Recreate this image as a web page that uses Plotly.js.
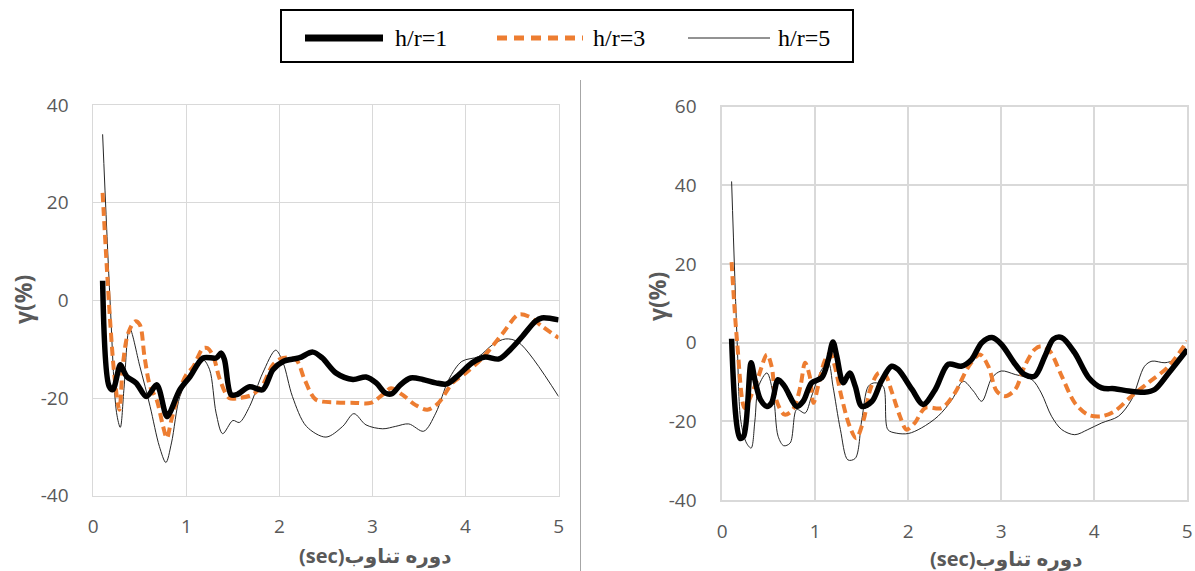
<!DOCTYPE html>
<html>
<head>
<meta charset="utf-8">
<script src="https://cdn.plot.ly/plotly-3.0.1.min.js"></script>
<style>
  html, body { margin: 0; padding: 0; background: #fff; }
  #chart { width: 1195px; height: 571px; }
</style>
</head>
<body>
<div id="chart"></div>
<script>
// Series names
const seriesNames = ['h/r=1', 'h/r=3', 'h/r=5'];

// Left panel: period (sec) and gamma (%) for each h/r
const leftT1 = [0.1,0.17,0.21,0.29,0.32,0.36,0.46,0.57,0.68,0.71,0.79,0.82,0.93,1.04,1.18,1.32,1.375,1.41,1.48,1.54,1.68,1.82,1.93,2.04,2.21,2.36,2.46,2.61,2.79,2.93,3.04,3.14,3.21,3.30,3.41,3.54,3.68,3.80,3.93,4.07,4.21,4.36,4.48,4.61,4.75,4.82,5.0];
const leftG1 = [4,-17.6,-18.3,-13.2,-14.2,-15.6,-16.9,-19.7,-17.3,-18.3,-23.8,-23.1,-18.3,-15.6,-11.8,-11.8,-10.8,-12.2,-19.3,-19.3,-17.7,-18.3,-14.2,-12.5,-11.8,-10.6,-11.8,-14.9,-16.2,-15.7,-16.9,-19.0,-19.1,-17.3,-15.9,-16.2,-16.9,-17.1,-15.2,-12.8,-11.6,-12.0,-10.1,-7.4,-4.3,-3.6,-4.0];

const leftT3 = [0.1,0.18,0.23,0.28,0.32,0.375,0.45,0.5,0.55,0.61,0.68,0.75,0.79,0.84,0.93,1.0,1.07,1.18,1.23,1.29,1.36,1.46,1.57,1.71,1.82,1.93,2.04,2.18,2.27,2.39,2.61,2.82,2.98,3.11,3.20,3.32,3.46,3.59,3.71,3.86,4.0,4.18,4.39,4.57,4.68,4.82,5.0];
const leftG3 = [22,-4,-16,-22.4,-12.8,-6.7,-4.3,-5.0,-11.5,-17.6,-20.3,-25.8,-28.2,-24.4,-18.3,-15.2,-13.7,-9.8,-9.8,-11.5,-16.2,-20.0,-20.0,-19.3,-17.3,-13.2,-11.8,-12.2,-16.2,-20.3,-20.9,-21.0,-21.0,-19.3,-18.0,-19.3,-21.4,-22.4,-21.0,-16.9,-14.9,-11.8,-7.0,-2.9,-3.3,-5.3,-7.7];

const leftT5 = [0.1,0.18,0.25,0.29,0.33,0.39,0.5,0.61,0.71,0.78,0.84,0.93,1.04,1.18,1.25,1.32,1.39,1.5,1.57,1.68,1.82,1.96,2.04,2.14,2.29,2.5,2.68,2.80,2.93,3.11,3.25,3.39,3.55,3.68,3.82,3.96,4.14,4.29,4.43,4.57,5.0];
const leftG5 = [34,0,-23,-26,-18,-5.7,-13.5,-21.7,-29.9,-33.2,-29.2,-19.7,-15.6,-12.2,-14.2,-23.1,-27.3,-24.6,-25.0,-21.7,-14.9,-10.2,-12.8,-19.7,-25.8,-28.0,-25.8,-23.2,-25.5,-26.3,-25.8,-25.3,-26.8,-23.1,-16.2,-12.5,-11.5,-9.1,-7.9,-8.6,-19.7];

// Right panel
const rightT1 = [0.1,0.19,0.23,0.31,0.35,0.41,0.48,0.53,0.60,0.67,0.80,0.87,0.96,1.07,1.14,1.19,1.23,1.30,1.37,1.43,1.50,1.61,1.71,1.82,1.89,2.04,2.16,2.29,2.43,2.57,2.68,2.79,2.90,3.0,3.15,3.25,3.36,3.47,3.56,3.65,3.79,3.94,4.08,4.22,4.37,4.54,4.65,4.80,5.0];
const rightG1 = [1.0,-24.3,-23.8,-5.1,-9.4,-14.5,-16.2,-15.3,-9.4,-11.1,-16.2,-14.9,-10.2,-8.9,-4.3,0.2,-3.4,-10.2,-7.7,-11.1,-16.2,-14.9,-9.8,-6.0,-6.8,-11.9,-15.7,-11.9,-5.5,-6.0,-4.3,0,1.3,-0.4,-5.5,-8.1,-8.5,-3.4,0.9,1.3,-2.6,-8.9,-11.5,-11.7,-12.3,-12.6,-11.9,-7.7,-1.7];

const rightT3 = [0.1,0.16,0.24,0.30,0.39,0.48,0.53,0.58,0.67,0.76,0.84,0.89,0.94,0.98,1.03,1.10,1.16,1.21,1.28,1.37,1.44,1.52,1.59,1.68,1.75,1.82,1.91,1.98,2.07,2.18,2.36,2.50,2.65,2.77,2.86,2.95,3.04,3.15,3.25,3.36,3.43,3.52,3.65,3.79,3.93,4.08,4.22,4.40,4.58,4.80,5.0];
const rightG3 = [20.5,0,-16.6,-14,-8.5,-3.0,-6.0,-14.5,-18.3,-17.0,-11.1,-5.1,-8.5,-15.3,-11.1,-4.7,-2.6,-6.0,-13.6,-21.3,-24.3,-19.6,-11.9,-7.7,-8.1,-12.3,-18.7,-22.1,-20.4,-16.6,-16.6,-12.8,-6.0,-3.0,-6.0,-12.3,-13.6,-11.9,-6.0,-1.7,-0.9,-2.1,-8.5,-15.3,-18.3,-18.7,-17.4,-13.6,-10.2,-6.0,0.4];

const rightT5 = [0.1,0.16,0.20,0.26,0.31,0.35,0.39,0.48,0.55,0.60,0.66,0.73,0.80,0.89,0.96,1.07,1.14,1.19,1.27,1.35,1.43,1.50,1.57,1.64,1.73,1.78,1.87,2.0,2.14,2.32,2.47,2.59,2.70,2.79,2.90,3.0,3.15,3.33,3.43,3.54,3.65,3.79,3.93,4.08,4.26,4.40,4.54,4.62,4.76,4.87,5.0];
const rightG5 = [41,0,-20,-25.5,-26.8,-20,-11.1,-7.7,-13.6,-23.8,-26.2,-25.5,-17.0,-17.9,-13.6,-6.8,-5.1,-11.1,-22.1,-29.8,-29.4,-19.6,-11.1,-10.2,-11.1,-22.1,-23.0,-23.1,-21.7,-18.7,-14.5,-9.8,-12.3,-14.9,-8.9,-7.2,-8.1,-9.4,-12.8,-18.7,-22.1,-23.4,-22.1,-20.4,-18.7,-14.5,-6.0,-4.7,-5.1,-4.3,-1.7];

// Axis ticks and their labels (plain hyphen for negatives)
const xTicks = [0, 1, 2, 3, 4, 5];
const leftYTicks = [-40, -20, 0, 20, 40];
const rightYTicks = [-40, -20, 0, 20, 40, 60];
const tickLabel = v => String(v);

const yTitle = 'γ(%)';
const xTitle = '(sec)دوره تناوب';

const W = 1195, H = 571;
const px = v => v / W;
const py = v => 1 - v / H;

const lineStyles = [
  { color: '#000000', width: 5.5 },
  { color: '#ED7D31', width: 4, dash: '9px,5px' },
  { color: '#262626', width: 1 }
];

function mk(t, g, i, xa, ya) {
  return {
    x: t, y: g, type: 'scatter', mode: 'lines', name: seriesNames[i],
    xaxis: xa, yaxis: ya, showlegend: false, hoverinfo: 'skip',
    line: Object.assign({ shape: 'spline', smoothing: 0.9 }, lineStyles[i])
  };
}

const data = [
  mk(leftT5, leftG5, 2, 'x', 'y'),
  mk(leftT3, leftG3, 1, 'x', 'y'),
  mk(leftT1, leftG1, 0, 'x', 'y'),
  mk(rightT5, rightG5, 2, 'x2', 'y2'),
  mk(rightT3, rightG3, 1, 'x2', 'y2'),
  mk(rightT1, rightG1, 0, 'x2', 'y2')
];

const tickFont = { family: 'Open Sans, DejaVu Sans, sans-serif', size: 19, color: '#595959' };
const titleFont = { family: 'Open Sans, DejaVu Sans, sans-serif', size: 20, color: '#595959', weight: 'bold' };
const yTitleFont = { family: 'Open Sans, DejaVu Sans, sans-serif', size: 23, color: '#595959', weight: 'bold' };

function xAxis(domain, anchor, gw) {
  return {
    domain: domain, anchor: anchor, range: [0, 5],
    tickmode: 'array', tickvals: xTicks, ticktext: xTicks.map(tickLabel),
    showgrid: true, gridcolor: '#D9D9D9', gridwidth: gw, zeroline: false,
    showline: true, linecolor: '#D9D9D9', linewidth: gw, mirror: true,
    ticks: '', tickfont: tickFont, ticklabelstandoff: 13, fixedrange: true
  };
}
function yAxis(domain, anchor, range, ticks, gw) {
  return {
    domain: domain, anchor: anchor, range: range,
    tickmode: 'array', tickvals: ticks, ticktext: ticks.map(tickLabel),
    showgrid: true, gridcolor: '#D9D9D9', gridwidth: gw, zeroline: false,
    showline: true, linecolor: '#D9D9D9', linewidth: gw, mirror: true,
    ticks: '', tickfont: tickFont, ticklabelstandoff: 20, fixedrange: true
  };
}

// Legend drawn as a framed strip above both panels
const legendY = 38;
const legendItems = [
  { x0: 305, x1: 383, tx: 393 },
  { x0: 497, x1: 583, tx: 591 },
  { x0: 688, x1: 770, tx: 776 }
];
const shapes = [
  { type: 'rect', xref: 'paper', yref: 'paper', x0: px(281), x1: px(853), y0: py(62), y1: py(10),
    line: { color: '#000', width: 2 }, fillcolor: 'rgba(0,0,0,0)' },
  { type: 'line', xref: 'paper', yref: 'paper', x0: px(580.5), x1: px(580.5), y0: py(80), y1: py(571),
    line: { color: '#A6A6A6', width: 1 } }
];
const annotations = [];
legendItems.forEach((it, i) => {
  const st = lineStyles[i];
  shapes.push({ type: 'line', xref: 'paper', yref: 'paper', x0: px(it.x0), x1: px(it.x1), y0: py(legendY), y1: py(legendY),
    line: { color: st.color, width: i === 0 ? 7 : (i === 1 ? 5 : 1), dash: i === 1 ? '10px,7px' : 'solid' } });
  annotations.push({ xref: 'paper', yref: 'paper', x: px(it.tx), y: py(legendY), xanchor: 'left', yanchor: 'middle',
    text: seriesNames[i], showarrow: false,
    font: { family: 'Liberation Serif, Times New Roman, serif', size: 24, color: '#000' } });
});

// Axis titles
[[23, 300], [657, 297]].forEach(p => annotations.push({
  xref: 'paper', yref: 'paper', x: px(p[0]), y: py(p[1]), xanchor: 'center', yanchor: 'middle',
  text: yTitle, textangle: -90, showarrow: false, font: yTitleFont }));
[[375, 555], [1006, 558]].forEach(p => annotations.push({
  xref: 'paper', yref: 'paper', x: px(p[0]), y: py(p[1]), xanchor: 'center', yanchor: 'middle',
  text: xTitle, showarrow: false, font: titleFont, borderpad: 0 }));

const layout = {
  width: W, height: H,
  margin: { l: 0, r: 0, t: 0, b: 0 },
  paper_bgcolor: '#fff', plot_bgcolor: '#fff',
  showlegend: false,
  xaxis: xAxis([px(93.3), px(558.6)], 'y', 1),
  yaxis: yAxis([1 - 495.7 / H, 1 - 105 / H], 'x', [-40, 40], leftYTicks, 1),
  xaxis2: xAxis([px(722.3), px(1187.3)], 'y2', 2),
  yaxis2: yAxis([1 - 500 / H, 1 - 106.7 / H], 'x2', [-40, 60], rightYTicks, 2),
  shapes: shapes,
  annotations: annotations
};

Plotly.newPlot('chart', data, layout, { staticPlot: true, displayModeBar: false });
</script>
</body>
</html>
